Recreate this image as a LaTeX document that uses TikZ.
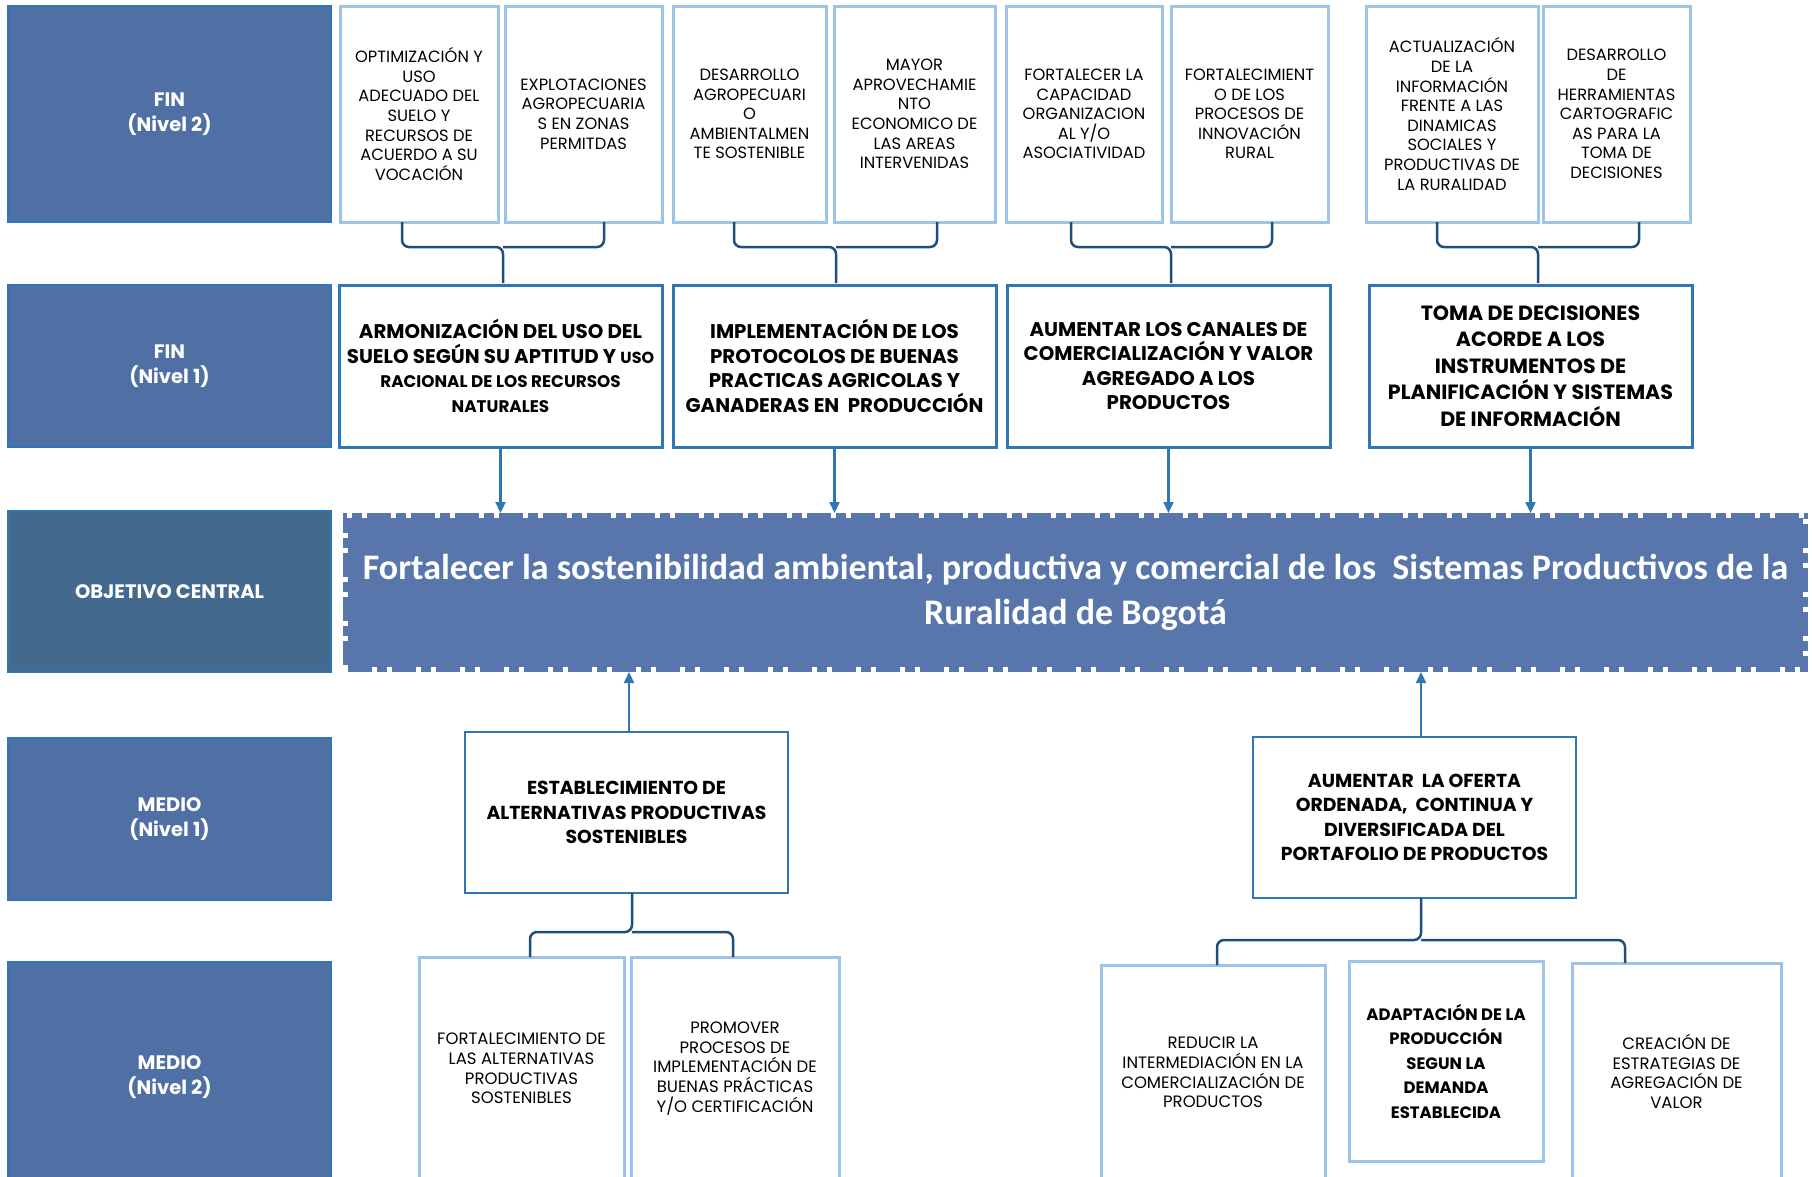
\documentclass[tikz,border=0pt]{standalone}
\usepackage{fontspec}
\setmainfont{Poppins}
\newfontfamily\calibri{Carlito}
\usetikzlibrary{positioning,arrows.meta}

\definecolor{fondonivel}{HTML}{4F6FA5}
\definecolor{fondoobj}{HTML}{44698E}
\definecolor{fondocentral}{HTML}{5876AB}
\definecolor{marco}{HTML}{2E75B6}
\definecolor{marcoclaro}{HTML}{9DC3E6}
\definecolor{llavecol}{HTML}{1F4E79}

\begin{document}
\begin{tikzpicture}[x=1pt,y=-1pt, every node/.style={outer sep=0pt},
    nivel/.style={fill=fondonivel, draw=marco, line width=1.5pt, text=white,
        font=\fontsize{19.5}{24.5}\selectfont\bfseries, align=center,
        anchor=north west, minimum width=323pt, inner sep=0pt},
    causa/.style={draw=marcoclaro, line width=3pt, align=center, anchor=north west,
        minimum height=216pt, inner sep=0pt, font=\fontsize{16.3}{19.6}\selectfont},
    efecto/.style={draw=marco, line width=3pt, align=center, anchor=north west,
        minimum width=323pt, minimum height=162pt, inner sep=0pt,
        font=\fontsize{19.8}{24.5}\selectfont\bfseries},
    medio/.style={draw=marco, line width=2.5pt, align=center, anchor=north west,
        minimum width=323pt, minimum height=161pt, inner sep=0pt,
        font=\fontsize{18.8}{24.5}\selectfont\bfseries},
    accion/.style={draw=marcoclaro, line width=3pt, align=center, anchor=north west,
        inner sep=0pt, font=\fontsize{16.5}{19.6}\selectfont},
    objetivo/.style={fill=fondocentral, draw=white, line width=10pt,
        dash pattern=on 5pt off 24pt on 5pt off 10pt, anchor=north west,
        minimum width=1465pt, minimum height=159pt, text=white, align=center,
        font=\calibri\bfseries\fontsize{36}{45}\selectfont},
    llave/.style={draw=llavecol, line width=2.5pt, rounded corners=7pt},
    flecha/.style={draw=marco, line width=2.2pt, -{Triangle[width=10pt,length=11pt]}}]

    \useasboundingbox (0,0) rectangle (1812,1176);
    \clip (0,0) rectangle (1812,1176);

    % niveles
    \node[nivel, minimum height=216pt] (fin2) at (8,6) {FIN\\(Nivel 2)};
    \node[nivel, minimum height=162pt] (fin1) at (8,285) {FIN\\(Nivel 1)};
    \node[nivel, fill=fondoobj, minimum height=161pt] (objl) at (8,511) {OBJETIVO CENTRAL};
    \node[nivel, minimum height=162pt] (med1) at (8,738) {MEDIO\\(Nivel 1)};
    \node[nivel, minimum height=230pt] (med2) at (8,962) {MEDIO\\(Nivel 2)};

    % fines nivel 2
    \node[causa, minimum width=158pt] (c1) at (340,6)
        {OPTIMIZACIÓN Y\\USO\\ADECUADO DEL\\SUELO Y\\RECURSOS DE\\ACUERDO A SU\\VOCACIÓN};
    \node[causa, minimum width=157pt, right=7pt of c1] (c2)
        {EXPLOTACIONES\\AGROPECUARIA\\S EN ZONAS\\PERMITDAS};
    \node[causa, minimum width=153pt, right=11pt of c2] (c3)
        {DESARROLLO\\AGROPECUARI\\O\\AMBIENTALMEN\\TE SOSTENIBLE};
    \node[causa, minimum width=161pt, right=8pt of c3] (c4)
        {MAYOR\\APROVECHAMIE\\NTO\\ECONOMICO DE\\LAS AREAS\\INTERVENIDAS};
    \node[causa, minimum width=156pt, right=11pt of c4] (c5)
        {FORTALECER LA\\CAPACIDAD\\ORGANIZACION\\AL Y/O\\ASOCIATIVIDAD};
    \node[causa, minimum width=157pt, right=9pt of c5] (c6)
        {FORTALECIMIENT\\O DE LOS\\PROCESOS DE\\INNOVACIÓN\\RURAL};
    \node[causa, minimum width=172pt, right=38pt of c6] (c7)
        {ACTUALIZACIÓN\\DE LA\\INFORMACIÓN\\FRENTE A LAS\\DINAMICAS\\SOCIALES Y\\PRODUCTIVAS DE\\LA RURALIDAD};
    \node[causa, minimum width=147pt, right=5pt of c7] (c8)
        {DESARROLLO\\DE\\HERRAMIENTAS\\CARTOGRAFIC\\AS PARA LA\\TOMA DE\\DECISIONES};

    % fines nivel 1
    \node[efecto] (e1) at (339,285)
        {ARMONIZACIÓN DEL USO DEL\\SUELO SEGÚN SU APTITUD Y {\fontsize{16}{24.5}\selectfont USO}\\
         {\fontsize{16.8}{24.5}\selectfont RACIONAL DE LOS RECURSOS}\\{\fontsize{16.8}{24.5}\selectfont NATURALES}};
    \node[efecto, right=11pt of e1] (e2)
        {IMPLEMENTACIÓN DE LOS\\PROTOCOLOS DE BUENAS\\PRACTICAS AGRICOLAS Y\\GANADERAS EN\ \ PRODUCCIÓN};
    \node[efecto, right=11pt of e2] (e3)
        {AUMENTAR LOS CANALES DE\\COMERCIALIZACIÓN Y VALOR\\AGREGADO A LOS\\PRODUCTOS};
    \node[efecto, right=39pt of e3, font=\fontsize{20.6}{26.6}\selectfont\bfseries] (e4)
        {TOMA DE DECISIONES\\ACORDE A LOS\\INSTRUMENTOS DE\\PLANIFICACIÓN Y SISTEMAS\\DE INFORMACIÓN};

    % objetivo central
    \node[objetivo] (obj) at (343,513)
        {Fortalecer la sostenibilidad ambiental, productiva y comercial de los\ \ Sistemas Productivos de la\\Ruralidad de Bogotá};

    % medios
    \node[medio] (m1a) at (465,732) {ESTABLECIMIENTO DE\\ALTERNATIVAS PRODUCTIVAS\\SOSTENIBLES};
    \node[medio] (m1b) at (1253,737) {AUMENTAR\ \ LA OFERTA\\ORDENADA,\ \ CONTINUA Y\\DIVERSIFICADA DEL\\PORTAFOLIO DE PRODUCTOS};

    \node[accion, minimum width=205pt, minimum height=223pt] (m2a) at (419,957)
        {FORTALECIMIENTO DE\\LAS ALTERNATIVAS\\PRODUCTIVAS\\SOSTENIBLES};
    \node[accion, minimum width=208pt, minimum height=223pt] (m2b) at (631,957)
        {PROMOVER\\PROCESOS DE\\IMPLEMENTACIÓN DE\\BUENAS PRÁCTICAS\\Y/O CERTIFICACIÓN};
    \node[accion, minimum width=224pt, minimum height=215pt] (m2c) at (1101,965)
        {REDUCIR LA\\INTERMEDIACIÓN EN LA\\COMERCIALIZACIÓN DE\\PRODUCTOS};
    \node[accion, minimum width=194pt, minimum height=200pt, font=\fontsize{16.5}{24.5}\selectfont\bfseries] (m2d) at (1349,961)
        {ADAPTACIÓN DE LA\\PRODUCCIÓN\\SEGUN LA\\DEMANDA\\ESTABLECIDA};
    \node[accion, minimum width=209pt, minimum height=217pt] (m2e) at (1572,963)
        {CREACIÓN DE\\ESTRATEGIAS DE\\AGREGACIÓN DE\\VALOR};

    % llaves
    \foreach \l/\r/\c/\a/\b/\n in {402/604/503/c1/c2/e1, 734/937/836/c3/c4/e2,
                                   1071/1272/1171/c5/c6/e3, 1437/1639/1538/c7/c8/e4} {
        \draw[llave] (\l,0 |- \a.south) -- (\l,247) -- (\c,247) -- ([yshift=2pt]\c,0 |- \n.north);
        \draw[llave] (\r,0 |- \b.south) -- (\r,247) -- (\c,247);
    }
    \draw[llave] (632,0 |- m1a.south) -- (632,932) -- (530,932) -- (530,0 |- m2a.north);
    \draw[llave] (632,932) -- (733,932) -- (733,0 |- m2b.north);
    \draw[llave] (1421,0 |- m1b.south) -- (1421,940) -- (1217,940) -- (1217,0 |- m2c.north);
    \draw[llave] (1421,940) -- (1625,940) -- (1625,0 |- m2e.north);

    % flechas
    \foreach \n in {e1,e2,e3,e4}
        \draw[flecha] (\n.south) -- (\n.south |- obj.north);
    \draw[flecha] (629,0 |- m1a.north) -- (629,0 |- obj.south);
    \draw[flecha] (1421,0 |- m1b.north) -- (1421,0 |- obj.south);
\end{tikzpicture}
\end{document}
